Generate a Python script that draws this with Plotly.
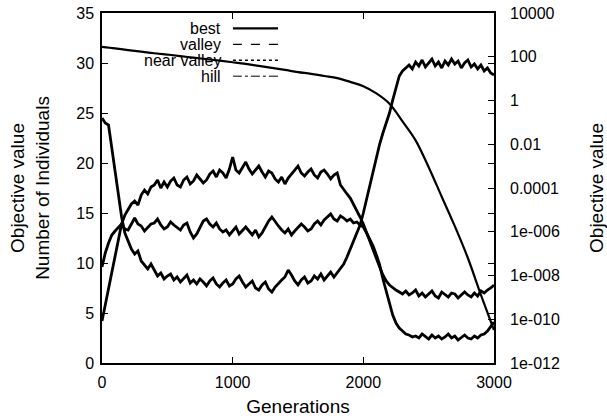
import plotly.graph_objects as go

generations = list(range(0, 3001, 25))
best_gens = list(range(0, 3001, 100))

best = [282, 240, 200, 170, 145, 126, 107, 91, 78, 66, 56, 47, 38, 31, 25, 20,
        16.6, 13.2, 10.5, 7.1, 4.5, 2.1, 0.71, 0.11, 0.015, 8.9e-4, 4e-5, 1.8e-6,
        6.3e-8, 1.3e-9, 3.2e-11]

valley = [
    24.5, 24.0, 23.8, 21.5, 19.0, 16.5, 14.6, 13.0,
    12.2, 11.4, 10.9, 11.2, 10.2, 9.8, 9.4, 9.9,
    9.3, 8.7, 9.0, 8.4, 8.7, 8.9, 8.3, 8.6,
    8.1, 8.5, 8.8, 8.0, 8.3, 7.9, 8.4, 8.1,
    7.7, 8.2, 8.5, 7.9, 7.6, 8.0, 8.3, 7.7,
    7.9, 8.4, 8.7, 8.1, 7.6, 7.9, 8.2, 7.5,
    7.3, 7.8, 8.1, 7.4, 7.1, 7.6, 8.0, 8.3,
    8.6, 9.3, 8.8, 8.2, 7.8, 8.3, 8.6, 8.0,
    8.2, 8.7, 8.4, 8.9, 8.3, 8.7, 9.1, 8.6,
    9.0, 9.4, 9.9, 10.6, 11.4, 12.2, 13.0, 13.8,
    15.0, 16.4, 17.5, 19.0, 20.5, 21.9, 23.0, 23.9,
    25.0, 26.3, 27.6, 28.7, 29.2, 29.5, 29.8, 29.4,
    30.1, 29.7, 30.3, 29.6, 30.0, 30.4, 29.7, 30.1,
    29.5, 30.2, 29.8, 30.4, 29.9, 30.2, 29.5, 30.0,
    30.3, 29.6, 29.9, 29.4, 29.8, 29.2, 29.5, 29.0,
    28.8]

hill = [
    4.2, 5.8, 7.5, 9.2, 10.8, 12.5, 13.9, 14.8,
    15.4, 15.9, 16.2, 15.8, 16.8, 17.3, 16.9, 17.6,
    17.8, 18.3, 17.5, 18.1, 17.6, 18.2, 18.5, 17.8,
    17.6, 18.3, 18.6, 17.9, 18.2, 18.8, 18.4, 18.0,
    18.3, 18.9, 19.2, 18.6, 19.3, 19.0, 18.5, 19.4,
    20.6, 19.3, 19.0, 19.6, 20.1, 19.4, 18.9, 19.3,
    19.7, 19.1, 18.6, 19.2, 19.0, 18.4, 18.1, 18.6,
    17.9, 18.5, 18.9, 19.3, 19.7, 19.0, 18.7, 19.1,
    19.4, 18.8, 18.5, 19.1, 19.3, 18.9, 18.4, 18.8,
    19.0, 17.8, 17.3, 16.9, 16.5, 15.9, 15.3, 14.6,
    13.9, 13.0, 12.2, 11.4, 10.5, 9.6, 8.8, 8.2,
    7.8, 7.5, 7.3, 7.1, 6.9, 7.2, 6.8, 7.0,
    7.3, 6.7, 7.0, 6.6, 6.9, 7.2, 6.7, 6.5,
    7.1, 6.8, 6.6, 7.0, 6.9, 6.5, 6.8, 7.1,
    6.8, 6.6, 7.0, 6.7, 7.2, 7.0, 7.3, 7.5,
    7.8]

near_valley = [
    9.6, 11.0, 12.0, 12.8, 13.2, 13.6, 13.9, 13.4,
    13.3, 13.9, 14.5, 13.9, 13.7, 13.2, 13.5, 13.9,
    14.0, 14.4, 13.8, 13.4, 13.6, 14.1, 13.8, 13.5,
    13.3, 13.8, 14.0, 13.1, 12.5, 12.9, 13.5, 14.2,
    14.4, 13.9, 13.6, 14.0, 13.4, 13.1, 13.3, 12.8,
    13.2, 13.6, 12.9, 13.3, 13.6, 13.2, 12.8, 13.3,
    12.6, 13.0, 13.6, 14.2, 14.6, 14.1, 13.7, 13.3,
    13.0, 13.4, 12.8, 13.2, 13.5, 13.9, 13.6, 13.2,
    13.4, 13.9, 14.2, 13.8, 14.3, 14.6, 14.9, 14.4,
    14.2, 14.7, 14.5, 14.2, 14.4, 14.0, 14.1, 13.8,
    13.6, 13.0, 12.3, 11.7, 10.8, 9.8, 8.4, 7.2,
    5.8, 4.8, 4.0, 3.5, 3.2, 2.9, 2.8, 2.6,
    2.7, 2.5, 2.9, 2.6, 2.4, 2.8, 2.5, 2.7,
    2.4, 2.6, 2.9, 2.5, 2.7, 2.3, 2.6, 2.8,
    2.5, 2.4, 2.7, 2.5, 2.8, 2.9, 3.2, 3.6,
    4.1]

x_ticks = [0, 1000, 2000, 3000]
y_ticks = [0, 5, 10, 15, 20, 25, 30, 35]
y2_ticks = [1e4, 1e2, 1, 1e-2, 1e-4, 1e-6, 1e-8, 1e-10, 1e-12]
y2_labels = ["10000", "100", "1", "0.01", "0.0001", "1e-006", "1e-008", "1e-010", "1e-012"]

legend_names = ["best", "valley", "near valley", "hill"]
legend_dash = ["solid", "dash", "dot", "dashdot"]
legend_width = [2.2, 1.2, 1.5, 1]

FONT = "Liberation Sans, Arial, sans-serif"

fig = go.Figure()
for name, ys in [("valley", valley), ("near valley", near_valley), ("hill", hill)]:
    fig.add_trace(go.Scatter(x=generations, y=ys, mode="lines", name=name,
                             line=dict(color="black", width=2.8), yaxis="y",
                             showlegend=False))
fig.add_trace(go.Scatter(x=best_gens, y=best, mode="lines", name="best",
                         line=dict(color="black", width=2.2, shape="spline"), yaxis="y2",
                         showlegend=False))

# gnuplot-style key (label left of sample line)
for i, (nm, dsh, w) in enumerate(zip(legend_names, legend_dash, legend_width)):
    yy = 0.956 - i * 0.0455
    fig.add_annotation(x=0.309, y=yy, xref="paper", yref="paper", text=nm,
                       showarrow=False, xanchor="right", yanchor="middle",
                       font=dict(family=FONT, size=16, color="black"))
    fig.add_shape(type="line", xref="paper", yref="paper", x0=0.334, x1=0.449,
                  y0=yy, y1=yy, line=dict(color="black", width=w, dash=dsh))

fig.update_layout(
    width=607, height=418,
    margin=dict(l=102, r=113, t=13, b=55),
    paper_bgcolor="white", plot_bgcolor="white",
    font=dict(family=FONT, size=16, color="black"),
    xaxis=dict(range=[0, 3000], tickvals=x_ticks, ticks="inside", ticklen=6,
               mirror="ticks", showline=True, linecolor="black", linewidth=1.5,
               showgrid=False, zeroline=False, tickcolor="black", automargin=False,
               title=dict(text="Generations", standoff=10),
               ticklabelstandoff=4),
    yaxis=dict(range=[0, 35], tickvals=y_ticks, ticks="inside", ticklen=6,
               mirror="ticks", showline=True, linecolor="black", linewidth=1.5,
               showgrid=False, zeroline=False, tickcolor="black", automargin=False,
               title=dict(text="Objective value<br>Number of Individuals", standoff=22),
               ticklabelstandoff=3),
    yaxis2=dict(type="log", range=[-12, 4], overlaying="y", side="right",
                tickvals=y2_ticks, ticktext=y2_labels, ticks="inside", ticklen=6,
                showline=False, showgrid=False, zeroline=False, tickcolor="black",
                automargin=False,
                title=dict(text="Objective value", standoff=30),
                ticklabelstandoff=15),
)

fig.write_html("out.html")
